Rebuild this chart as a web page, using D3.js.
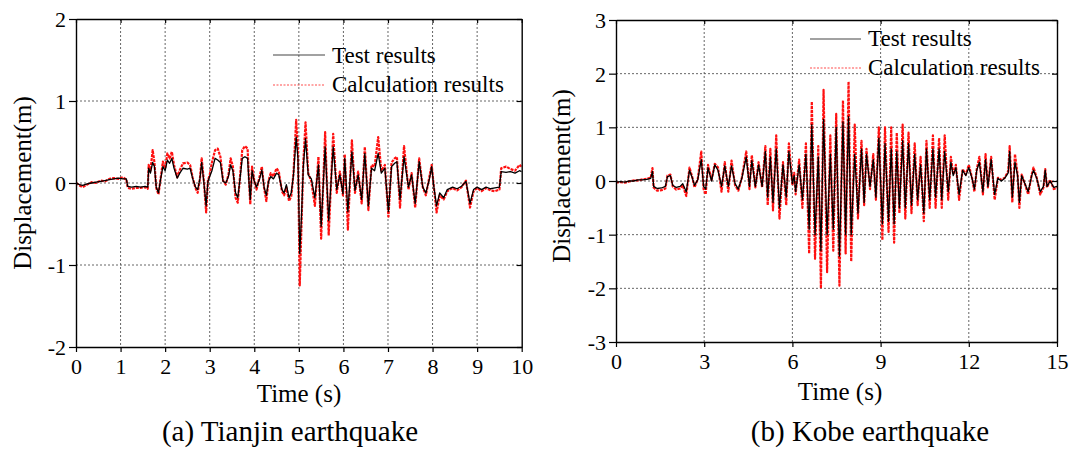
<!DOCTYPE html>
<html>
<head>
<meta charset="utf-8">
<script src="https://cdn.jsdelivr.net/npm/d3@7/dist/d3.min.js"></script>
<style>
  html, body { margin: 0; padding: 0; background: #fff; }
  svg { display: block; font-family: "Liberation Serif", "Times New Roman", serif; }
</style>
</head>
<body>
<script>
// ---- Tianjin earthquake: time (s) and displacement (m) ----
const tianjinTime = [0.00,0.08,0.15,0.25,0.35,0.45,0.55,0.65,0.75,0.85,0.95,1.05,1.13,1.16,1.25,1.35,1.45,1.55,1.61,1.63,1.67,1.72,1.76,1.80,1.85,1.90,1.95,2.00,2.05,2.10,2.15,2.20,2.27,2.33,2.40,2.50,2.56,2.62,2.68,2.73,2.78,2.82,2.87,2.92,2.96,3.00,3.05,3.12,3.18,3.24,3.30,3.36,3.42,3.47,3.52,3.58,3.63,3.68,3.73,3.79,3.85,3.88,3.91,3.95,4.00,4.05,4.12,4.17,4.22,4.27,4.32,4.37,4.43,4.50,4.55,4.62,4.67,4.72,4.78,4.83,4.88,4.94,4.98,5.02,5.06,5.10,5.15,5.21,5.28,5.36,5.44,5.50,5.59,5.67,5.77,5.85,5.92,5.99,6.03,6.10,6.19,6.26,6.33,6.41,6.48,6.56,6.63,6.70,6.78,6.85,6.93,7.01,7.08,7.15,7.20,7.27,7.36,7.46,7.53,7.61,7.70,7.78,7.85,7.93,7.98,8.03,8.09,8.16,8.25,8.33,8.45,8.55,8.65,8.75,8.84,8.92,9.00,9.10,9.20,9.30,9.40,9.50,9.54,9.65,9.75,9.85,9.95,10.00];
const tianjinTest = [0.00,-0.02,-0.03,-0.01,0.00,0.01,0.02,0.03,0.04,0.05,0.06,0.05,0.05,-0.04,-0.05,-0.04,-0.05,-0.04,-0.05,0.18,0.12,0.25,0.20,-0.05,-0.12,0.05,0.20,0.15,0.28,0.24,0.30,0.18,0.06,0.12,0.18,0.17,0.18,0.05,-0.05,-0.08,0.05,0.25,0.00,-0.28,0.02,0.08,0.15,0.30,0.28,0.25,0.02,0.00,0.08,0.22,0.15,-0.12,-0.18,0.05,0.30,0.32,0.30,0.02,-0.20,0.15,0.02,-0.05,0.05,0.16,-0.05,-0.15,0.02,0.08,0.05,0.12,0.10,-0.08,-0.12,-0.02,-0.18,-0.12,0.10,0.56,0.30,-0.86,-0.40,0.20,0.54,0.10,0.05,-0.18,0.22,-0.53,0.44,-0.46,0.44,-0.08,0.10,-0.13,0.30,-0.35,0.38,-0.09,0.10,-0.20,0.36,-0.28,0.18,0.15,0.36,0.12,0.18,-0.35,0.20,0.24,0.26,-0.20,0.32,-0.05,0.10,-0.25,0.26,-0.05,-0.12,0.05,0.20,-0.05,-0.28,-0.12,-0.18,-0.08,-0.05,-0.07,-0.04,0.02,-0.25,-0.08,-0.05,-0.08,-0.05,-0.07,-0.06,-0.05,0.14,0.13,0.14,0.12,0.15,0.14];
const tianjinCalc = [0.00,-0.03,-0.05,-0.02,0.01,0.00,0.03,0.02,0.05,0.06,0.05,0.07,0.04,-0.06,-0.07,-0.06,-0.06,-0.05,-0.07,0.22,0.15,0.40,0.25,-0.06,-0.14,0.06,0.26,0.18,0.36,0.30,0.38,0.22,0.07,0.16,0.24,0.25,0.22,0.06,-0.06,-0.12,0.05,0.30,0.02,-0.36,0.03,0.10,0.25,0.40,0.42,0.32,0.03,-0.02,0.10,0.30,0.20,-0.18,-0.24,0.08,0.40,0.45,0.42,0.05,-0.26,0.20,0.03,-0.08,0.08,0.20,-0.06,-0.22,0.03,0.12,0.08,0.18,0.14,-0.10,-0.15,-0.05,-0.22,-0.16,0.12,0.77,0.40,-1.25,-0.50,0.25,0.74,0.12,0.02,-0.28,0.32,-0.68,0.62,-0.64,0.60,-0.12,0.14,-0.15,0.35,-0.57,0.52,-0.12,0.14,-0.25,0.44,-0.33,0.22,0.20,0.56,0.15,0.22,-0.41,0.25,0.30,0.32,-0.30,0.45,-0.08,0.12,-0.30,0.30,-0.05,-0.15,0.08,0.22,-0.05,-0.36,-0.15,-0.20,-0.10,-0.06,-0.09,-0.05,0.03,-0.30,-0.10,-0.06,-0.10,-0.06,-0.09,-0.10,-0.08,0.18,0.20,0.17,0.15,0.22,0.20];

// ---- Kobe earthquake: time (s) and displacement (m) ----
const kobeTime = [0.00,0.15,0.30,0.45,0.60,0.75,0.90,1.05,1.18,1.24,1.28,1.40,1.55,1.68,1.75,1.85,1.93,2.05,2.18,2.27,2.39,2.50,2.60,2.67,2.78,2.90,2.98,3.05,3.13,3.25,3.36,3.47,3.59,3.70,3.82,3.93,4.05,4.16,4.28,4.43,4.54,4.62,4.74,4.85,4.97,5.08,5.16,5.25,5.34,5.45,5.56,5.68,5.79,5.88,6.00,6.06,6.11,6.23,6.34,6.46,6.57,6.66,6.77,6.88,6.97,7.06,7.18,7.29,7.39,7.49,7.60,7.72,7.81,7.91,8.00,8.12,8.23,8.35,8.44,8.52,8.64,8.75,8.84,8.94,9.06,9.15,9.27,9.36,9.46,9.55,9.64,9.75,9.84,9.95,10.05,10.16,10.26,10.36,10.47,10.56,10.67,10.78,10.87,10.99,11.08,11.18,11.30,11.39,11.47,11.56,11.67,11.79,11.90,12.00,12.11,12.19,12.27,12.36,12.48,12.57,12.65,12.76,12.88,12.99,13.11,13.22,13.34,13.39,13.48,13.57,13.66,13.72,13.80,13.91,14.02,14.14,14.20,14.31,14.43,14.54,14.60,14.66,14.77,14.89,15.00];
const kobeTest = [-0.02,-0.01,-0.02,0.00,0.00,0.02,0.02,0.03,0.05,0.18,-0.10,-0.14,-0.13,-0.10,0.08,0.10,-0.08,-0.12,-0.10,-0.05,-0.20,0.20,0.05,-0.08,0.02,0.40,-0.10,-0.15,0.25,0.00,0.30,0.20,-0.10,0.28,-0.10,0.28,-0.05,-0.15,0.05,0.45,-0.10,0.38,-0.10,0.30,-0.10,0.55,-0.30,0.45,-0.40,0.60,-0.50,0.30,-0.30,0.55,-0.05,0.10,-0.20,0.30,-0.35,0.50,-0.90,1.05,-1.00,0.45,-1.30,1.15,-1.00,0.50,-0.90,1.00,-1.40,1.10,-1.00,1.20,-1.00,0.50,-0.60,0.60,-0.40,0.50,-0.10,0.40,-0.30,0.80,-0.80,0.70,-0.75,0.60,-0.80,0.55,-0.50,0.75,-0.50,0.70,-0.45,0.50,-0.35,0.30,-0.60,0.60,-0.35,0.60,-0.30,0.60,-0.35,0.55,-0.20,0.35,0.10,0.25,-0.25,0.20,0.10,0.25,0.05,-0.15,0.20,0.35,-0.20,0.40,-0.10,0.40,-0.25,0.05,0.00,0.05,0.15,0.55,-0.30,0.35,0.10,-0.40,0.10,-0.05,-0.20,0.10,0.20,0.05,-0.20,-0.10,0.20,-0.10,0.00,-0.12,-0.10];
const kobeCalc = [-0.03,-0.02,-0.03,-0.01,0.01,0.01,0.03,0.04,0.06,0.24,-0.12,-0.18,-0.17,-0.14,0.10,0.12,-0.10,-0.16,-0.14,-0.08,-0.28,0.25,0.06,-0.12,0.03,0.55,-0.15,-0.25,0.30,0.02,0.32,0.25,-0.20,0.35,-0.20,0.38,-0.08,-0.18,0.06,0.55,-0.15,0.48,-0.12,0.35,-0.12,0.65,-0.45,0.60,-0.55,0.85,-0.70,0.35,-0.45,0.70,-0.08,0.15,-0.25,0.40,-0.50,0.70,-1.35,1.48,-1.45,0.65,-2.00,1.70,-1.70,0.85,-1.30,1.25,-1.95,1.50,-1.35,1.85,-1.50,1.05,-0.70,0.75,-0.45,0.60,-0.15,0.50,-0.35,1.00,-1.10,1.00,-0.95,1.00,-1.15,0.90,-0.60,1.05,-0.70,0.90,-0.60,0.70,-0.45,0.45,-0.75,0.75,-0.50,0.85,-0.50,0.80,-0.50,0.85,-0.35,0.45,0.12,0.30,-0.35,0.22,0.12,0.30,0.06,-0.20,0.22,0.45,-0.25,0.50,-0.12,0.45,-0.35,0.06,0.02,0.06,0.18,0.65,-0.40,0.50,0.12,-0.50,0.12,-0.06,-0.25,0.12,0.25,0.06,-0.25,-0.12,0.22,-0.12,0.02,-0.15,-0.12];

// ---- Axis ticks ----
const tianjinXTicks = [0,1,2,3,4,5,6,7,8,9,10];
const tianjinYTicks = [-2,-1,0,1,2];
const kobeXTicks = [0,3,6,9,12,15];
const kobeYTicks = [-3,-2,-1,0,1,2,3];

const legendLabels = ["Test results", "Calculation results"];
const xTitle = "Time (s)";
const yTitle = "Displacement(m)";

const FONT = "'Liberation Serif', 'Times New Roman', serif";
const W = 1078, H = 450;
const svg = d3.select("body").append("svg")
  .attr("width", W).attr("height", H)
  .attr("viewBox", `0 0 ${W} ${H}`);

svg.append("rect").attr("width", W).attr("height", H).attr("fill", "#fff");

function drawPanel(cfg) {
  const { left, right, top, bottom } = cfg.box;
  const x = d3.scaleLinear().domain(cfg.xDomain).range([left, right]);
  const y = d3.scaleLinear().domain(cfg.yDomain).range([bottom, top]);
  const g = svg.append("g").style("font-family", FONT);

  // dotted grid at inner ticks
  const grid = g.append("g")
    .attr("stroke", "#555").attr("stroke-width", 0.9)
    .attr("stroke-dasharray", "2,2");
  grid.selectAll("line.gx")
    .data(cfg.xTicks.filter(d => d !== cfg.xDomain[0] && d !== cfg.xDomain[1]))
    .join("line")
    .attr("x1", d => x(d)).attr("x2", d => x(d))
    .attr("y1", top).attr("y2", bottom);
  grid.selectAll("line.gy")
    .data(cfg.yTicks.filter(d => d !== cfg.yDomain[0] && d !== cfg.yDomain[1]))
    .join("line")
    .attr("x1", left).attr("x2", right)
    .attr("y1", d => y(d)).attr("y2", d => y(d));

  const clipId = "clip-" + cfg.id;
  svg.append("clipPath").attr("id", clipId)
    .append("rect").attr("x", left).attr("y", top)
    .attr("width", right - left).attr("height", bottom - top);

  const line = d3.line().x((d, i) => x(cfg.time[i])).y(d => y(d));
  const plot = g.append("g").attr("clip-path", `url(#${clipId})`);

  // calculated response (red, dotted) underneath the measured one
  plot.append("path")
    .datum(cfg.calc)
    .attr("d", line)
    .attr("fill", "none")
    .attr("stroke", "#ff1010")
    .attr("stroke-width", 2.2)
    .attr("stroke-dasharray", "3,1")
    .attr("stroke-linejoin", "round");

  plot.append("path")
    .datum(cfg.test)
    .attr("d", line)
    .attr("fill", "none")
    .attr("stroke", "#000")
    .attr("stroke-width", 1.3)
    .attr("stroke-linejoin", "round");

  // axes: labelled left/bottom, plain inward ticks on top/right
  const fmt = d => String(d);
  const axStyle = sel => {
    sel.attr("font-family", null);
    sel.select(".domain").attr("stroke", "#000").attr("stroke-width", 1.4);
    sel.selectAll(".tick line").attr("stroke", "#000").attr("stroke-width", 1.2);
    sel.selectAll("text").style("font-family", FONT)
      .attr("font-size", 22).attr("fill", "#000");
  };
  g.append("g").attr("transform", `translate(0,${bottom})`)
    .call(d3.axisBottom(x).tickValues(cfg.xTicks).tickFormat(fmt).tickSize(5).tickPadding(6).tickSizeOuter(0))
    .call(axStyle);
  g.append("g").attr("transform", `translate(${left},0)`)
    .call(d3.axisLeft(y).tickValues(cfg.yTicks).tickFormat(fmt).tickSize(7).tickPadding(3).tickSizeOuter(0))
    .call(axStyle)
    .selectAll("text").attr("dy", "0.34em");
  g.append("g").attr("transform", `translate(0,${top})`)
    .call(d3.axisTop(x).tickValues(cfg.xTicks).tickFormat("").tickSize(-4).tickSizeOuter(0))
    .call(axStyle);
  g.append("g").attr("transform", `translate(${right},0)`)
    .call(d3.axisRight(y).tickValues(cfg.yTicks).tickFormat("").tickSize(-5).tickSizeOuter(0))
    .call(axStyle);

  // titles
  g.append("text")
    .attr("x", cfg.xTitleX).attr("y", cfg.xTitleY)
    .attr("text-anchor", "middle").attr("font-size", 25).attr("fill", "#000")
    .text(xTitle);
  g.append("text")
    .attr("transform", `translate(${cfg.yTitleX},${cfg.yTitleCY}) rotate(-90)`)
    .attr("text-anchor", "middle").attr("dy", "0.35em")
    .attr("font-size", 25).attr("fill", "#000")
    .text(yTitle);
  g.append("text")
    .attr("x", cfg.captionX).attr("y", cfg.captionY)
    .attr("text-anchor", "middle").attr("font-size", 29).attr("fill", "#000")
    .text(cfg.caption);

  // legend
  const lg = g.append("g");
  const L = cfg.legend;
  lg.append("line").attr("x1", L.x1).attr("x2", L.x2).attr("y1", L.y1).attr("y2", L.y1)
    .attr("stroke", "#444").attr("stroke-width", 1.1);
  lg.append("line").attr("x1", L.x1).attr("x2", L.x2).attr("y1", L.y2).attr("y2", L.y2)
    .attr("stroke", "#ff4d4d").attr("stroke-width", 1.1).attr("stroke-dasharray", "2,1.5");
  lg.append("text").attr("x", L.tx).attr("y", L.b1).attr("font-size", 23).attr("fill", "#000").text(legendLabels[0]);
  lg.append("text").attr("x", L.tx).attr("y", L.b2).attr("font-size", 23).attr("fill", "#000").text(legendLabels[1]);
}

drawPanel({
  id: "tianjin",
  box: { left: 76, right: 521.7, top: 19, bottom: 347 },
  xDomain: [0, 10], yDomain: [-2, 2],
  xTicks: tianjinXTicks, yTicks: tianjinYTicks,
  time: tianjinTime, test: tianjinTest, calc: tianjinCalc,
  xTitleX: 299, xTitleY: 402, yTitleX: 22, yTitleCY: 183,
  caption: "(a) Tianjin earthquake", captionX: 290, captionY: 441,
  legend: { x1: 273, x2: 325, y1: 55, y2: 85, tx: 332, b1: 63, b2: 92 }
});

drawPanel({
  id: "kobe",
  box: { left: 616, right: 1057, top: 20, bottom: 342 },
  xDomain: [0, 15], yDomain: [-3, 3],
  xTicks: kobeXTicks, yTicks: kobeYTicks,
  time: kobeTime, test: kobeTest, calc: kobeCalc,
  xTitleX: 840, xTitleY: 400, yTitleX: 561, yTitleCY: 176,
  caption: "(b) Kobe earthquake", captionX: 870, captionY: 441,
  legend: { x1: 810, x2: 861, y1: 39, y2: 68, tx: 868, b1: 46, b2: 75 }
});
</script>
</body>
</html>
